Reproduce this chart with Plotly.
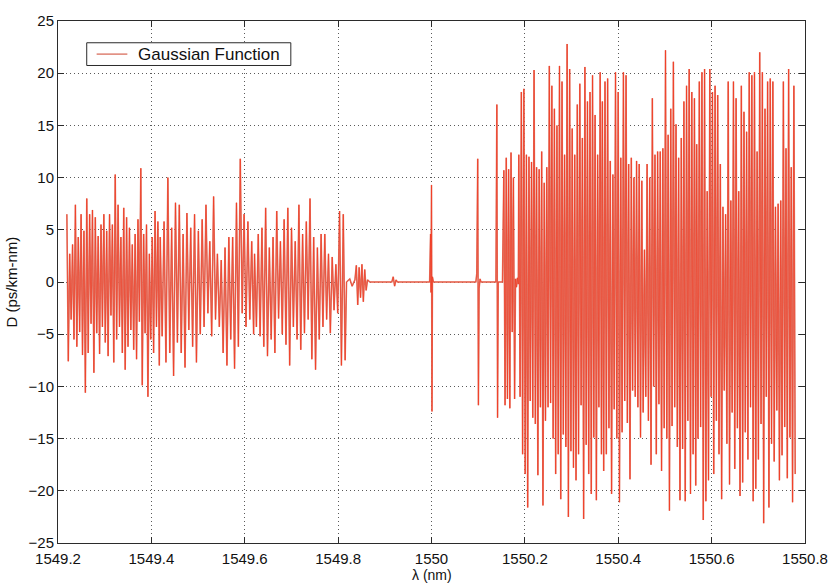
import numpy as np
import plotly.graph_objects as go

# Dispersion D (ps/km-nm) versus wavelength (nm) for the Gaussian-apodised grating.
# Dense ripple bands are stored as alternating crest / trough samples over a span.

band_a_span = (1549.219, 1549.417)
band_a_crest = [6.5, 2.7, 3.6, 7.4, 4.3, 6.5, 4.9, 8.0, 6.5, 6.9, 6.2, 4.4, 5.5, 6.5, 4.9, 6.5, 5.5,
                10.3, 7.4, 4.3, 7.1, 6.2, 5.2, 3.6, 4.6, 6.0, 10.9, 4.6, 5.5, 2.7, 4.3, 6.8, 5.8]
band_a_trough = [-7.6, -3.6, -5.5, -6.2, -4.8, -7.0, -10.6, -6.8, -4.0, -8.7, -4.9, -6.9, -4.3, -5.8, -7.1,
                 -3.2, -7.7, -5.5, -4.3, -6.8, -8.4, -6.2, -4.6, -6.5, -7.4, -3.8, -9.9, -4.9, -11.0, -5.5,
                 -6.8, -4.3, -8.0]

band_b_span = (1549.419, 1549.619)
band_b_crest = [4.3, 5.8, 10.0, 5.2, 7.6, 7.4, 4.6, 6.6, 5.2, 6.5, 4.9, 6.0, 7.4, 3.9, 8.2, 2.7, 2.1,
                3.3, 4.3, 4.3, 7.6, 11.8, 6.5, 5.8, 3.9]
band_b_trough = [-5.2, -7.7, -6.8, -9.0, -5.8, -6.8, -8.2, -4.6, -6.2, -7.7, -5.0, -4.3, -3.0, -5.2, -3.6,
                 -4.3, -6.8, -8.0, -5.5, -8.3, -6.2, -3.0, -4.3, -3.6, -5.0]

band_c_span = (1549.621, 1549.815)
band_c_crest = [2.7, 4.6, 5.2, 7.1, 3.3, 4.3, 6.8, 3.9, 6.0, 7.1, 5.2, 3.9, 7.4, 4.6, 5.8, 8.0, 4.3,
                3.3, 4.6, 4.6, 2.7, 2.4, 1.7, 6.8, 6.5]
band_c_trough = [-4.3, -5.2, -6.2, -7.1, -5.5, -6.8, -3.5, -5.0, -6.0, -8.0, -4.3, -5.5, -6.5, -4.9, -3.6,
                 -7.4, -8.4, -5.5, -4.3, -3.6, -4.9, -2.7, -3.0, -8.0, -7.5]

# Quiet stop-band centre with isolated spikes
quiet_nm = [1549.818, 1549.825, 1549.830, 1549.836, 1549.839, 1549.842, 1549.845, 1549.848, 1549.851,
            1549.854, 1549.857, 1549.860, 1549.863, 1549.868, 1549.915, 1549.918, 1549.921, 1549.924,
            1549.927, 1549.996, 1549.998, 1549.999, 1550.000, 1550.001, 1550.002, 1550.004, 1550.095,
            1550.097, 1550.099, 1550.1005, 1550.102, 1550.104, 1550.106, 1550.138, 1550.140, 1550.1415,
            1550.143, 1550.152]
quiet_D = [0.0, 0.3, -0.4, 0.2, 1.6, -2.2, 1.4, -1.5, 1.7,
           -1.9, 1.2, -0.8, 0.2, 0.0, 0.0, 0.5, -0.4, 0.2,
           0.0, 0.0, 4.6, -1.0, 9.3, -12.4, 0.5, 0.0, 0.0,
           0.8, 11.8, -11.8, -0.6, 0.3, 0.0, 0.0, 17.0, -13.0,
           0.0, 0.0]

band_d_span = (1550.155, 1550.178)
band_d_crest = [10.7, 11.9, 10.8, 12.4, 10.0]
band_d_trough = [-11.8, -11.2, -12.1, -4.8, -11.2]

gap_nm = [1550.180, 1550.182, 1550.184, 1550.186]
gap_D = [0.3, -0.5, 0.4, -0.2]

band_e_span = (1550.187, 1550.364)
band_e_crest = [12.2, 18.2, 18.5, 12.2, 12.0, 11.5, 20.3, 11.0, 10.8, 12.5, 9.5, 11.0, 20.7, 18.8, 16.6,
                15.0, 20.7, 19.2, 12.2, 22.8, 20.4, 14.7, 12.2, 17.0, 19.0, 13.8, 20.6, 17.3, 18.2, 19.8,
                16.0, 12.2, 20.1]
band_e_trough = [-11.0, -16.5, -18.4, -21.6, -11.4, -13.0, -13.6, -18.5, -12.0, -21.4, -13.3, -12.0, -11.6,
                 -15.0, -18.4, -16.5, -20.8, -14.6, -15.8, -22.5, -16.2, -17.8, -19.0, -16.5, -11.8, -22.7,
                 -15.6, -18.4, -20.3, -14.9, -20.9, -12.0, -16.5]

band_f_span = (1550.366, 1550.566)
band_f_crest = [17.3, 19.2, 19.5, 11.6, 10.3, 20.1, 18.2, 11.9, 20.1, 19.8, 11.3, 11.9, 10.0, 11.6, 11.3,
                9.7, 3.1, 11.3, 10.0, 17.6, 12.2, 12.5, 12.5, 12.8, 22.2, 14.1, 16.6, 21.1, 15.1, 11.9,
                13.8, 17.3, 18.8, 20.4, 18.2, 17.6]
band_f_trough = [-18.1, -16.5, -14.0, -20.3, -12.2, -15.0, -21.1, -14.4, -11.4, -13.5, -18.9, -10.4, -11.0,
                 -12.0, -14.9, -12.5, -11.0, -13.3, -17.5, -10.0, -16.5, -11.7, -18.1, -14.0, -15.0, -21.9,
                 -13.8, -12.0, -15.8, -20.9, -16.0, -21.0, -13.3, -20.3, -16.5, -19.5]

band_g_span = (1550.568, 1550.779)
band_g_crest = [13.2, 19.2, 20.1, 20.4, 8.7, 20.4, 18.2, 18.8, 17.9, 11.3, 7.2, 6.5, 19.2, 7.8, 19.2,
                17.6, 8.7, 18.8, 16.3, 14.4, 20.1, 19.8, 20.1, 12.5, 22.0, 20.1, 16.6, 19.2, 19.5, 19.2,
                7.2, 7.5, 7.8, 19.2, 12.8, 20.4, 11.0, 18.8]
band_g_trough = [-15.0, -13.9, -22.8, -21.0, -19.0, -11.0, -18.4, -13.3, -16.5, -20.8, -10.4, -15.5, -19.4,
                 -12.5, -17.9, -14.0, -20.5, -19.2, -14.4, -17.0, -12.0, -21.0, -19.8, -17.0, -13.6, -23.1,
                 -11.0, -21.6, -15.5, -17.2, -12.3, -19.0, -16.6, -13.9, -18.8, -14.9, -21.1, -18.4]

x_tick_vals = [1549.2, 1549.4, 1549.6, 1549.8, 1550.0, 1550.2, 1550.4, 1550.6, 1550.8]
x_tick_text = ["1549.2", "1549.4", "1549.6", "1549.8", "1550", "1550.2", "1550.4", "1550.6", "1550.8"]
y_tick_vals = [-25, -20, -15, -10, -5, 0, 5, 10, 15, 20, 25]
series_name = "Gaussian Function"


def zigzag(span, crest, trough):
    """Interleave crest/trough samples evenly across a wavelength span."""
    vals = []
    for c, t in zip(crest, trough):
        vals.extend([c, t])
    return list(np.linspace(span[0], span[1], len(vals))), vals


pieces = [
    zigzag(band_a_span, band_a_crest, band_a_trough),
    zigzag(band_b_span, band_b_crest, band_b_trough),
    zigzag(band_c_span, band_c_crest, band_c_trough),
    (quiet_nm, quiet_D),
    zigzag(band_d_span, band_d_crest, band_d_trough),
    (gap_nm, gap_D),
    zigzag(band_e_span, band_e_crest, band_e_trough),
    zigzag(band_f_span, band_f_crest, band_f_trough),
    zigzag(band_g_span, band_g_crest, band_g_trough),
]
wl, disp = [], []
for xs, ys in pieces:
    wl.extend(xs)
    disp.extend(ys)

font_name = "Liberation Sans, Arial, sans-serif"
ink = "#2b2b2b"
grid = "#5a5a5a"
halo = "rgb(222,130,115)"
core = "#f5321a"

fig = go.Figure()
# soft outer stroke plus a bright inner stroke of the same curve
fig.add_trace(go.Scatter(x=wl, y=disp, mode="lines", name=series_name,
                         line=dict(color=halo, width=1.6), showlegend=False))
fig.add_trace(go.Scatter(x=wl, y=disp, mode="lines", name=series_name,
                         line=dict(color=core, width=0.6), showlegend=False))

axis_common = dict(
    showline=True, linecolor=ink, linewidth=1, mirror="ticks",
    ticks="inside", ticklen=6, tickcolor=ink, tickwidth=1,
    showgrid=True, gridcolor=grid, gridwidth=1, griddash="1px,3px",
    zeroline=False, tickfont=dict(family=font_name, size=15, color="#111"),
)


def px_x(p):
    return (p - 58) / 754


def px_y(p):
    return (543 - p) / 528


fig.update_layout(
    width=840, height=584,
    margin=dict(l=58, r=28, t=15, b=41),
    paper_bgcolor="white", plot_bgcolor="white",
    showlegend=False,
    xaxis=dict(range=[1549.2, 1550.8], tickvals=x_tick_vals, ticktext=x_tick_text,
               ticklabelstandoff=2, **axis_common),
    yaxis=dict(range=[-25, 25], tickvals=y_tick_vals, **axis_common),
    shapes=[
        dict(type="rect", xref="paper", yref="paper",
             x0=px_x(87), x1=px_x(293), y0=px_y(60), y1=px_y(37),
             line=dict(color=ink, width=1), fillcolor="white", layer="above"),
        dict(type="line", xref="paper", yref="paper",
             x0=px_x(97), x1=px_x(128), y0=px_y(48.5), y1=px_y(48.5),
             line=dict(color=halo, width=1.5), layer="above"),
    ],
    annotations=[
        dict(text=series_name, xref="paper", yref="paper", x=px_x(137), y=px_y(48.5),
             xanchor="left", yanchor="middle", showarrow=False,
             font=dict(family=font_name, size=17, color="#111")),
        dict(text="λ (nm)", xref="paper", yref="paper", x=0.5, y=0, yshift=-41,
             xanchor="center", yanchor="bottom", showarrow=False, borderpad=0,
             font=dict(family=font_name, size=14, color="#111")),
        dict(text="D (ps/km-nm)", xref="paper", yref="paper", x=0, xshift=-58, y=0.5,
             xanchor="left", yanchor="middle", textangle=-90, showarrow=False,
             font=dict(family=font_name, size=15, color="#111")),
    ],
)

fig.write_html("out.html")
